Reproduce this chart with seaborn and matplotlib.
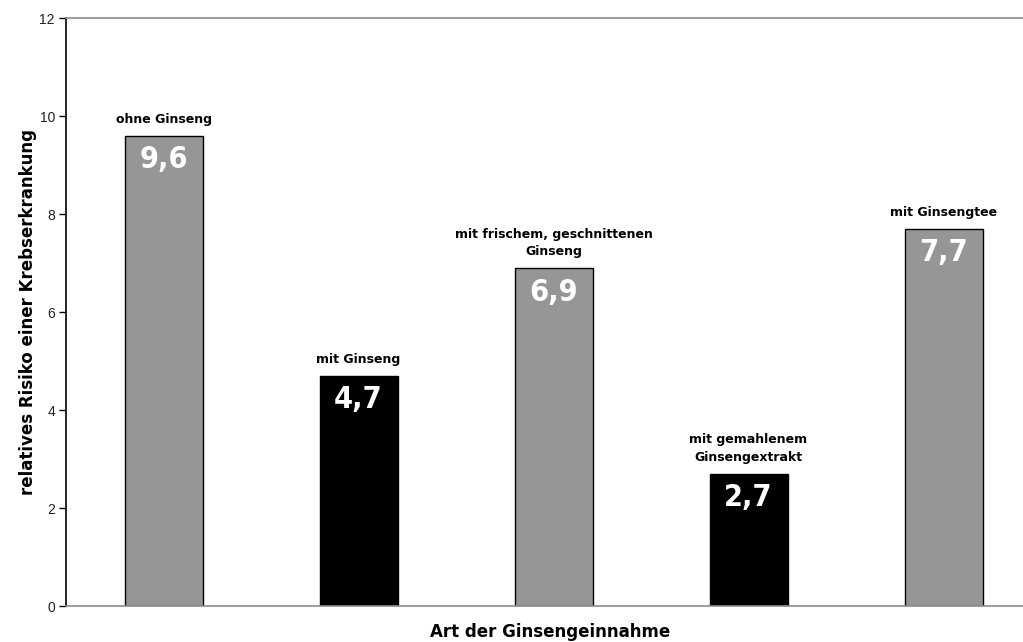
import matplotlib
matplotlib.use("Agg")
import matplotlib.pyplot as plt
import seaborn as sns
import pandas as pd

categories = [
    "ohne Ginseng",
    "mit Ginseng",
    "mit frischem, geschnittenen\nGinseng",
    "mit gemahlenem\nGinsengextrakt",
    "mit Ginsengtee",
]
risk = [9.6, 4.7, 6.9, 2.7, 7.7]
bar_colors = ["#969696", "#000000", "#969696", "#000000", "#969696"]
y_ticks = [0, 2, 4, 6, 8, 10, 12]

sns.set_theme(style="white")
plt.rcParams["font.family"] = ["DejaVu Sans"]

fig = plt.figure(figsize=(10.23, 6.42), dpi=100)
ax = fig.add_axes([66 / 1023, 36 / 642, 975 / 1023, 588 / 642])

df = pd.DataFrame({"cat": categories, "risk": risk})
sns.barplot(data=df, x="cat", y="risk", hue="cat", palette=bar_colors,
            width=0.4, edgecolor="black", linewidth=1.0, legend=False, ax=ax)

ax.set_xlim(-0.5, 4.5)
ax.set_ylim(0, 12)
ax.set_yticks(y_ticks)
ax.set_yticklabels([str(t) for t in y_ticks], fontsize=10, color="#222222",
                   family=["Liberation Sans", "DejaVu Sans"])
ax.tick_params(axis="y", direction="out", length=5, width=1, color="black",
               left=True, pad=3)
ax.set_xticks([])
ax.set_xlabel("")
ax.set_ylabel("relatives Risiko einer Krebserkrankung", fontsize=12,
              fontweight="bold", color="black", labelpad=2)

ax.spines["left"].set_color("black")
ax.spines["left"].set_linewidth(1.2)
for side in ["bottom", "top"]:
    ax.spines[side].set_color("#8c8c8c")
    ax.spines[side].set_linewidth(1.2)
ax.spines["right"].set_visible(False)

for i, (cat, v) in enumerate(zip(categories, risk)):
    ax.annotate(cat, xy=(i, v), xytext=(0, 7), textcoords="offset points",
                ha="center", va="bottom", fontsize=9, fontweight="bold",
                color="black", linespacing=1.45)
    ax.annotate(f"{v:.1f}".replace(".", ","), xy=(i, v), xytext=(0, -7),
                textcoords="offset points", ha="center", va="top",
                fontsize=22, fontweight="bold", color="white",
                family=["DejaVu Sans"], fontstretch="condensed")

fig.text(550 / 1023, 1 - 632 / 642, "Art der Ginsengeinnahme", ha="center",
         va="center", fontsize=12, fontweight="bold", color="black")

fig.savefig("out.png", dpi=100)
